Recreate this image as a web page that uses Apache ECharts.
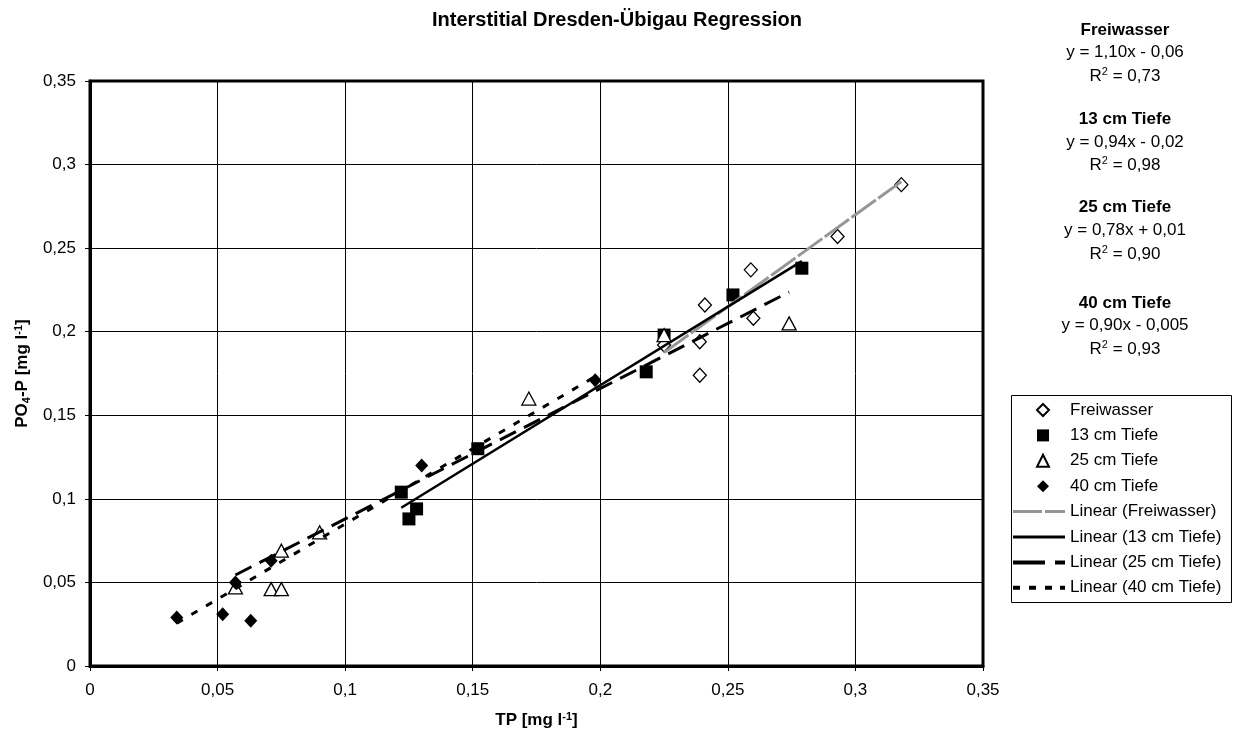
<!DOCTYPE html>
<html>
<head>
<meta charset="utf-8">
<script src="https://cdn.jsdelivr.net/npm/echarts@6/dist/echarts.min.js"></script>
<style>
html,body{margin:0;padding:0;background:#fff;}
#chart{width:1234px;height:735px;}
</style>
</head>
<body>
<div id="chart"></div>
<script>
// ---- data (TP [mg/l], PO4-P [mg/l]) ----
const seriesNames = ['Freiwasser', '13 cm Tiefe', '25 cm Tiefe', '40 cm Tiefe'];
const freiX = [0.318, 0.293, 0.259, 0.241, 0.260, 0.239, 0.225, 0.239];
const freiY = [0.288, 0.257, 0.237, 0.216, 0.208, 0.194, 0.192, 0.174];
const t13X = [0.279, 0.252, 0.225, 0.218, 0.152, 0.122, 0.128, 0.125];
const t13Y = [0.238, 0.222, 0.198, 0.176, 0.130, 0.104, 0.094, 0.088];
const t25X = [0.274, 0.225, 0.172, 0.090, 0.075, 0.057, 0.071, 0.075];
const t25Y = [0.205, 0.198, 0.160, 0.080, 0.069, 0.047, 0.046, 0.046];
const t40X = [0.034, 0.052, 0.063, 0.057, 0.071, 0.130, 0.198];
const t40Y = [0.029, 0.031, 0.027, 0.050, 0.063, 0.120, 0.171];
// regression coefficients as printed
const slopes = [1.10, 0.94, 0.78, 0.90];
const intercepts = [-0.06, -0.02, 0.01, -0.005];
const eqTexts = ['y = 1,10x - 0,06', 'y = 0,94x - 0,02', 'y = 0,78x + 0,01', 'y = 0,90x - 0,005'];
const r2Texts = ['0,73', '0,98', '0,90', '0,93'];
const xTicks = [0, 0.05, 0.1, 0.15, 0.2, 0.25, 0.3, 0.35];
const yTicks = [0, 0.05, 0.1, 0.15, 0.2, 0.25, 0.3, 0.35];

const xs = [freiX, t13X, t25X, t40X];
const ys = [freiY, t13Y, t25Y, t40Y];
function pairs(a, b) { return a.map((v, i) => [v, b[i]]); }
function trend(k) {
  const lo = Math.min(...xs[k]), hi = Math.max(...xs[k]);
  return [[lo, slopes[k] * lo + intercepts[k]], [hi, slopes[k] * hi + intercepts[k]]];
}
const fmt = v => String(+v.toFixed(4)).replace('.', ',');
const FONT = 'Liberation Sans, Arial, sans-serif';
const lineNames = seriesNames.map(n => 'Linear (' + n + ')');

const markerStyles = [
  {symbol: 'diamond', symbolSize: [13, 14], itemStyle: {color: '#fff', borderColor: '#000', borderWidth: 1.3, opacity: 1}},
  {symbol: 'rect', symbolSize: 13, itemStyle: {color: '#000', borderColor: '#000', borderWidth: 0, opacity: 1}},
  {symbol: 'triangle', symbolSize: [14, 13], itemStyle: {color: '#fff', borderColor: '#000', borderWidth: 1.3, opacity: 1}},
  {symbol: 'diamond', symbolSize: [13, 14], itemStyle: {color: '#000', borderColor: '#000', borderWidth: 0, opacity: 1}}
];
const lineStyles = [
  {color: '#969696', width: 3, type: [30, 3]},
  {color: '#000', width: 2.5, type: 'solid'},
  {color: '#000', width: 3, type: [18, 9]},
  {color: '#000', width: 3, type: [7, 10]}
];
// legend icons for the trend lines (dash patterns)
const lineIcons = [
  'path://M0,0h29v3h-29z M32,0h20v3h-20z',
  'path://M0,0h52v3h-52z',
  'path://M0,0h32v4h-32z M42,0h10v4h-10z',
  'path://M0,0h7v4h-7z M16,0h7v4h-7z M32,0h7v4h-7z M47,0h5v4h-5z'
];

const series = [];
for (let k = 0; k < 4; k++) {
  series.push(Object.assign({
    type: 'scatter', name: seriesNames[k], data: pairs(xs[k], ys[k]), z: 3 + k
  }, markerStyles[k]));
}
for (let k = 0; k < 4; k++) {
  series.push({
    type: 'line', name: lineNames[k], data: trend(k),
    symbol: 'none', showSymbol: false, z: 10 + k,
    lineStyle: lineStyles[k], itemStyle: {color: lineStyles[k].color}
  });
}

// annotation block on the right
const annY = [[30, 52, 76], [119, 142, 165], [207, 230, 254], [303, 325, 349]];
const graphics = [];
for (let k = 0; k < 4; k++) {
  graphics.push({type: 'text', x: 1125, y: annY[k][0], style: {text: seriesNames[k], font: 'bold 17px ' + FONT, fill: '#000', textAlign: 'center', textVerticalAlign: 'middle'}});
  graphics.push({type: 'text', x: 1125, y: annY[k][1], style: {text: eqTexts[k], font: '17px ' + FONT, fill: '#000', textAlign: 'center', textVerticalAlign: 'middle'}});
  graphics.push({type: 'text', x: 1125, y: annY[k][2], style: {
    text: 'R{sup|2} = ' + r2Texts[k], font: '17px ' + FONT, fill: '#000', align: 'center', verticalAlign: 'middle',
    rich: {sup: {fontSize: 11, fontFamily: FONT, verticalAlign: 'top', lineHeight: 20, padding: [0, 0, 8, 0]}}
  }});
}
// legend frame
graphics.push({type: 'rect', shape: {x: 1011.5, y: 395.5, width: 220, height: 207}, style: {fill: 'none', stroke: '#000', lineWidth: 1}, z: 0});

const legendText = {fontSize: 17, color: '#000', fontFamily: FONT, lineHeight: 18};
const chart = echarts.init(document.getElementById('chart'), null, {renderer: 'canvas'});
chart.setOption({
  animation: false,
  backgroundColor: '#fff',
  textStyle: {fontFamily: FONT},
  title: {
    text: 'Interstitial Dresden-Übigau Regression', left: 'center', top: 5,
    textStyle: {fontSize: 20, fontWeight: 'bold', color: '#000', fontFamily: FONT}
  },
  grid: {left: 90, right: 251, top: 81, bottom: 69, show: true, borderColor: '#000', borderWidth: 3, backgroundColor: 'transparent'},
  legend: [
    {
      orient: 'vertical', left: 1036, top: 401, padding: 0,
      data: seriesNames,
      itemWidth: 12, itemHeight: 12, itemGap: 7.4,
      textStyle: Object.assign({padding: [0, 0, 0, 16]}, legendText),
      selectedMode: false
    },
    {
      orient: 'vertical', left: 1013, top: 502.6, padding: 0,
      data: lineNames.map((n, k) => ({name: n, icon: lineIcons[k]})),
      itemWidth: 52, itemHeight: 4, itemGap: 7.4,
      itemStyle: {borderWidth: 0},
      textStyle: legendText,
      selectedMode: false
    }
  ],
  xAxis: {
    type: 'value', min: xTicks[0], max: xTicks[xTicks.length - 1], interval: xTicks[1] - xTicks[0],
    name: 'TP [mg l{sup|-1}]', nameLocation: 'middle', nameGap: 45,
    nameTextStyle: {fontSize: 17, fontWeight: 'bold', color: '#000', fontFamily: FONT,
      rich: {sup: {fontSize: 11, fontWeight: 'bold', verticalAlign: 'top', padding: [0, 0, 8, 0]}}},
    axisLine: {show: true, onZero: false, lineStyle: {color: '#000', width: 3}},
    axisTick: {show: true, length: 5, lineStyle: {color: '#000', width: 1}},
    axisLabel: {fontSize: 17, color: '#000', margin: 16, formatter: fmt},
    splitLine: {show: true, lineStyle: {color: '#000', width: 1}}
  },
  yAxis: {
    type: 'value', min: yTicks[0], max: yTicks[yTicks.length - 1], interval: yTicks[1] - yTicks[0],
    name: 'PO{sub|4}-P [mg l{sup|-1}]', nameLocation: 'middle', nameGap: 42,
    nameTextStyle: {fontSize: 17, fontWeight: 'bold', color: '#000', fontFamily: FONT,
      rich: {sub: {fontSize: 11, fontWeight: 'bold', verticalAlign: 'bottom', padding: [8, 0, 0, 0]},
             sup: {fontSize: 11, fontWeight: 'bold', verticalAlign: 'top', padding: [0, 0, 8, 0]}}},
    axisLine: {show: true, onZero: false, lineStyle: {color: '#000', width: 3}},
    axisTick: {show: true, length: 5, lineStyle: {color: '#000', width: 1}},
    axisLabel: {fontSize: 17, color: '#000', margin: 14, formatter: fmt},
    splitLine: {show: true, lineStyle: {color: '#000', width: 1}}
  },
  graphic: graphics,
  series: series
});
</script>
</body>
</html>
